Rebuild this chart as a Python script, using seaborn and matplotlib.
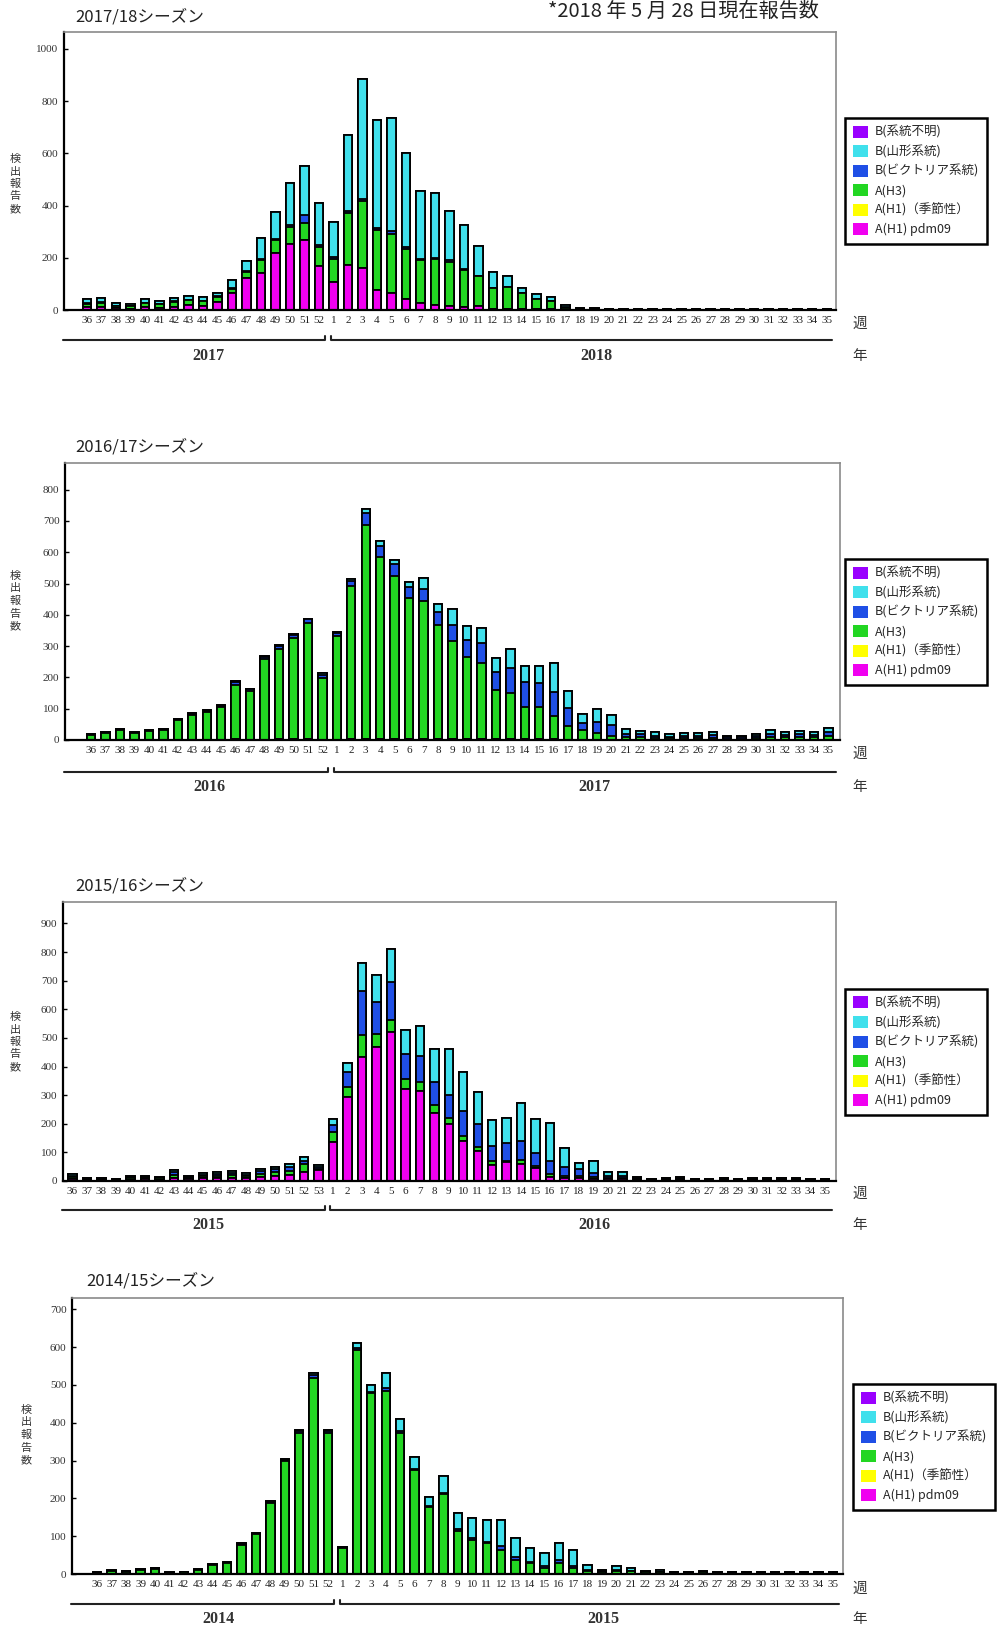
import numpy as np
import pandas as pd
import matplotlib
matplotlib.use("Agg")
import matplotlib.pyplot as plt
import seaborn as sns
from matplotlib.patches import Patch
from matplotlib.transforms import blended_transform_factory

sns.set_theme(style="white")
plt.rcParams['font.family'] = ['Noto Sans CJK JP', 'DejaVu Sans']
SERIF = ['Liberation Serif', 'DejaVu Serif']

# ---------------- categories ----------------
weeks_52 = ['36', '37', '38', '39', '40', '41', '42', '43', '44', '45', '46', '47', '48', '49', '50', '51', '52',
            '1', '2', '3', '4', '5', '6', '7', '8', '9', '10', '11', '12', '13', '14', '15', '16', '17', '18',
            '19', '20', '21', '22', '23', '24', '25', '26', '27', '28', '29', '30', '31', '32', '33', '34', '35']
weeks_53 = ['36', '37', '38', '39', '40', '41', '42', '43', '44', '45', '46', '47', '48', '49', '50', '51', '52', '53',
            '1', '2', '3', '4', '5', '6', '7', '8', '9', '10', '11', '12', '13', '14', '15', '16', '17', '18',
            '19', '20', '21', '22', '23', '24', '25', '26', '27', '28', '29', '30', '31', '32', '33', '34', '35']

legend_labels = ['B(系統不明)', 'B(山形系統)', 'B(ビクトリア系統)', 'A(H3)', 'A(H1)（季節性）', 'A(H1) pdm09']
# stack order bottom -> top: pdm09, H1 seasonal, H3, Victoria, Yamagata, B unknown
colors = {'pdm': '#f000f0', 'h1': '#ffff00', 'h3': '#22d622', 'vic': '#1f4fe6', 'yam': '#40e0ec', 'bunk': '#9a00ff'}

zeros_52 = [0, 0, 0, 0, 0, 0, 0, 0, 0, 0, 0, 0, 0, 0, 0, 0, 0, 0, 0, 0, 0, 0, 0, 0, 0, 0,
            0, 0, 0, 0, 0, 0, 0, 0, 0, 0, 0, 0, 0, 0, 0, 0, 0, 0, 0, 0, 0, 0, 0, 0, 0, 0]
zeros_53 = [0, 0, 0, 0, 0, 0, 0, 0, 0, 0, 0, 0, 0, 0, 0, 0, 0, 0, 0, 0, 0, 0, 0, 0, 0, 0, 0,
            0, 0, 0, 0, 0, 0, 0, 0, 0, 0, 0, 0, 0, 0, 0, 0, 0, 0, 0, 0, 0, 0, 0, 0, 0, 0]

# ---------------- 2017/18 ----------------
pdm_1718 = [10, 12, 6, 5, 10, 8, 12, 18, 15, 32, 67, 121, 143, 219, 251, 270, 168,
            106, 172, 159, 76, 66, 41, 28, 19, 15, 12, 15, 5, 4, 3, 2, 2, 1,
            0, 0, 0, 0, 0, 0, 0, 0, 0, 0, 0, 0, 0, 0, 0, 0, 0, 0]
h3_1718 = [14, 16, 9, 9, 15, 14, 20, 20, 18, 19, 13, 25, 48, 49, 67, 64, 74,
           90, 200, 258, 230, 227, 192, 163, 177, 170, 141, 114, 78, 83, 62, 39, 33, 8,
           3, 2, 2, 1, 1, 1, 1, 1, 1, 1, 1, 1, 1, 1, 1, 1, 1, 1]
vic_1718 = [2, 2, 1, 1, 2, 1, 2, 2, 2, 2, 3, 3, 4, 5, 6, 29, 6,
            6, 8, 10, 8, 8, 7, 5, 5, 5, 4, 3, 2, 2, 1, 1, 1, 1,
            0, 0, 0, 0, 0, 0, 0, 0, 0, 0, 0, 0, 0, 0, 0, 0, 0, 0]
yam_1718 = [15, 17, 9, 8, 14, 11, 13, 15, 15, 12, 32, 38, 79, 104, 163, 189, 162,
            137, 291, 458, 412, 435, 361, 259, 249, 190, 168, 115, 60, 40, 18, 18, 14, 10,
            5, 4, 3, 1, 1, 1, 1, 1, 1, 1, 1, 1, 1, 1, 1, 1, 1, 1]

# ---------------- 2016/17 ----------------
pdm_1617 = [1, 1, 1, 1, 1, 1, 1, 1, 1, 1, 2, 1, 1, 2, 2, 2, 1,
            1, 2, 2, 2, 2, 2, 2, 2, 2, 2, 2, 2, 2, 2, 2, 2, 1, 1, 1, 1,
            0, 0, 0, 0, 0, 0, 0, 0, 0, 0, 0, 0, 0, 0, 0]
h3_1617 = [15, 22, 31, 20, 27, 32, 62, 78, 88, 103, 175, 155, 258, 290, 325, 372, 198,
           332, 489, 686, 583, 521, 453, 442, 364, 314, 262, 245, 158, 147, 104, 104, 75, 45, 31, 20, 12,
           8, 8, 6, 5, 6, 6, 7, 4, 4, 6, 10, 8, 9, 8, 13]
vic_1617 = [2, 2, 3, 2, 2, 2, 4, 4, 4, 5, 8, 6, 6, 9, 10, 11, 10,
            9, 17, 37, 34, 39, 34, 40, 44, 51, 55, 62, 58, 80, 80, 77, 77, 57, 21, 38, 35,
            12, 10, 8, 6, 7, 7, 8, 5, 5, 6, 10, 9, 10, 8, 13]
yam_1617 = [1, 1, 1, 1, 1, 1, 1, 2, 2, 2, 3, 2, 3, 3, 3, 3, 4,
            4, 5, 14, 16, 12, 16, 34, 24, 53, 46, 50, 43, 61, 51, 52, 91, 54, 30, 39, 31,
            14, 12, 10, 8, 8, 8, 9, 5, 5, 7, 11, 9, 10, 8, 13]

# ---------------- 2015/16 ----------------
pdm_1516 = [8, 4, 4, 3, 5, 6, 5, 12, 6, 9, 10, 12, 9, 15, 18, 22, 33, 38,
            137, 294, 434, 469, 521, 323, 315, 236, 198, 140, 105, 55, 66, 58, 47, 15, 10, 10, 8,
            6, 6, 3, 2, 3, 3, 2, 2, 3, 2, 2, 2, 3, 3, 2, 2]
h3_1516 = [5, 3, 3, 2, 4, 5, 4, 10, 4, 7, 7, 8, 7, 10, 12, 14, 25, 5,
           35, 35, 75, 46, 41, 32, 32, 29, 23, 17, 14, 15, 4, 14, 5, 8, 7, 8, 6,
           5, 5, 3, 2, 3, 3, 2, 2, 3, 2, 2, 2, 3, 2, 2, 2]
vic_1516 = [5, 3, 3, 2, 4, 4, 3, 8, 4, 6, 7, 8, 6, 10, 11, 13, 12, 6,
            23, 52, 154, 111, 133, 90, 90, 82, 81, 87, 79, 52, 64, 68, 47, 47, 32, 23, 15,
            8, 8, 4, 2, 3, 3, 2, 2, 3, 2, 2, 3, 3, 2, 2, 2]
yam_1516 = [5, 2, 2, 1, 3, 4, 3, 8, 3, 5, 6, 7, 5, 8, 9, 11, 14, 6,
            20, 32, 100, 95, 117, 84, 104, 116, 160, 136, 112, 90, 87, 133, 116, 133, 67, 23, 41,
            12, 12, 4, 2, 3, 4, 2, 2, 3, 2, 3, 3, 2, 3, 2, 2]

# ---------------- 2014/15 ----------------
pdm_1415 = [0, 0, 0, 0, 0, 0, 0, 0, 0, 0, 0, 0, 0, 0, 0, 0, 0,
            0, 0, 0, 0, 0, 0, 0, 0, 0, 0, 0, 0, 0, 0, 0, 0, 0, 0,
            0, 0, 0, 0, 0, 0, 0, 0, 0, 0, 0, 0, 0, 0, 0, 0, 0]
h3_1415 = [3, 8, 6, 11, 14, 3, 4, 10, 23, 28, 78, 105, 188, 298, 374, 518, 373,
           69, 593, 478, 485, 373, 275, 176, 211, 114, 90, 81, 63, 37, 28, 15, 28, 15, 8,
           5, 8, 7, 4, 5, 3, 3, 4, 2, 3, 2, 2, 3, 2, 2, 3, 3]
vic_1415 = [0, 1, 1, 1, 1, 0, 0, 1, 1, 1, 1, 2, 2, 3, 3, 8, 4,
            2, 5, 4, 6, 5, 4, 3, 4, 4, 4, 4, 10, 8, 5, 5, 8, 6, 3,
            2, 3, 2, 1, 1, 1, 1, 1, 1, 1, 1, 1, 1, 1, 1, 1, 1]
yam_1415 = [1, 2, 1, 2, 2, 1, 1, 1, 2, 2, 2, 2, 3, 3, 4, 5, 4,
            1, 12, 18, 40, 32, 30, 24, 45, 44, 53, 58, 70, 51, 37, 35, 47, 42, 13,
            4, 10, 8, 4, 5, 2, 2, 3, 1, 1, 1, 1, 1, 1, 1, 1, 2]

seasons = [
    dict(title='2017/18シーズン', weeks=weeks_52, n_first=17, years=('2017', '2018'),
         layers=[pdm_1718, zeros_52, h3_1718, vic_1718, yam_1718, zeros_52],
         ylim=1065, yticks=[0, 200, 400, 600, 800, 1000],
         ax_px=(64, 32, 836, 310), xlim=(-1.57, 51.64), year_x=(8.4, 35.1),
         line_y=340, year_y=356, week_y=324, leg=(845, 118), title_xy=(75, 17), ylab=(15, 184)),
    dict(title='2016/17シーズン', weeks=weeks_52, n_first=17, years=('2016', '2017'),
         layers=[pdm_1617, zeros_52, h3_1617, vic_1617, yam_1617, zeros_52],
         ylim=885, yticks=[0, 100, 200, 300, 400, 500, 600, 700, 800],
         ax_px=(65, 463, 840, 740), xlim=(-1.8, 51.8), year_x=(8.2, 34.8),
         line_y=772, year_y=787, week_y=754, leg=(845, 559), title_xy=(75, 447), ylab=(15, 601)),
    dict(title='2015/16シーズン', weeks=weeks_53, n_first=18, years=('2015', '2016'),
         layers=[pdm_1516, zeros_53, h3_1516, vic_1516, yam_1516, zeros_53],
         ylim=975, yticks=[0, 100, 200, 300, 400, 500, 600, 700, 800, 900],
         ax_px=(63, 902, 836, 1181), xlim=(-0.66, 52.76), year_x=(9.4, 36.1),
         line_y=1210, year_y=1225, week_y=1194, leg=(845, 989), title_xy=(75, 886), ylab=(15, 1042)),
    dict(title='2014/15シーズン', weeks=weeks_52, n_first=17, years=('2014', '2015'),
         layers=[pdm_1415, zeros_52, h3_1415, vic_1415, yam_1415, zeros_52],
         ylim=730, yticks=[0, 100, 200, 300, 400, 500, 600, 700],
         ax_px=(72, 1298, 843, 1574), xlim=(-1.75, 51.7), year_x=(8.4, 35.1),
         line_y=1604, year_y=1619, week_y=1589, leg=(853, 1384), title_xy=(86, 1281), ylab=(26, 1435)),
]

layer_colors = [colors['pdm'], colors['h1'], colors['h3'], colors['vic'], colors['yam'], colors['bunk']]
legend_colors = [colors['bunk'], colors['yam'], colors['vic'], colors['h3'], colors['h1'], colors['pdm']]

W, H = 1000, 1632
fig = plt.figure(figsize=(W / 100, H / 100), dpi=100)
fig.patch.set_facecolor('white')


def fy(py):
    return 1 - py / H


fig.text(548 / W, fy(11), '*2018 年 5 月 28 日現在報告数', fontsize=14.5, ha='left', va='center',
         family=['Noto Sans CJK JP', 'DejaVu Sans'], color='#222222')

for s in seasons:
    x0, y0, x1, y1 = s['ax_px']
    ax = fig.add_axes([x0 / W, fy(y1), (x1 - x0) / W, (y1 - y0) / H])
    weeks = s['weeks']
    cums = []
    cum = np.zeros(len(weeks))
    for vals in s['layers']:
        cum = cum + np.array(vals, dtype=float)
        cums.append(cum.copy())
    for cvals, col in reversed(list(zip(cums, layer_colors))):
        df = pd.DataFrame({'week': weeks, 'value': cvals})
        sns.barplot(data=df, x='week', y='value', order=weeks, color=col, saturation=1,
                    edgecolor='black', linewidth=1.3, width=0.58, errorbar=None, ax=ax)
    ax.set_xlim(*s['xlim'])
    ax.set_ylim(0, s['ylim'])
    ax.set_yticks(s['yticks'])
    ax.set_yticklabels([str(t) for t in s['yticks']], family=SERIF, fontsize=8, color='#333333')
    ax.set_xticks(range(len(weeks)))
    ax.set_xticklabels(weeks, family=SERIF, fontsize=8, color='#222222')
    ax.tick_params(axis='x', length=0, pad=4)
    ax.tick_params(axis='y', direction='in', length=3, width=1, color='black', left=True, pad=4)
    ax.set_xlabel('')
    ax.set_ylabel('')
    for side in ['left', 'bottom']:
        ax.spines[side].set_color('black')
        ax.spines[side].set_linewidth(1.6)
    for side in ['top', 'right']:
        ax.spines[side].set_color('#8a8a8a')
        ax.spines[side].set_linewidth(1.2)

    # title
    fig.text(s['title_xy'][0] / W, fy(s['title_xy'][1]), s['title'], fontsize=12, ha='left', va='center',
             family=['Noto Sans CJK JP', 'DejaVu Sans'], color='#222222')
    # y label: stacked characters, one per line
    for k, ch in enumerate('検出報告数'):
        fig.text(s['ylab'][0] / W, fy(s['ylab'][1] + (k - 2) * 12.5), ch, fontsize=8,
                 ha='center', va='center', color='#333333')
    # year lines
    tr = blended_transform_factory(ax.transData, fig.transFigure)
    brk = s['n_first'] - 0.5
    ly = fy(s['line_y'])
    hook = 4 / H
    xl0 = s['xlim'][0] - 0.1
    xr1 = s['xlim'][1] - 0.3
    ax.plot([xl0, brk - 0.08, brk - 0.08], [ly, ly, ly + hook], transform=tr, clip_on=False,
            color='#222222', lw=1.5)
    ax.plot([brk + 0.3, brk + 0.3, xr1], [ly + hook, ly, ly], transform=tr, clip_on=False,
            color='#222222', lw=1.5)
    for yr, xx in zip(s['years'], s['year_x']):
        ax.text(xx, fy(s['year_y']), yr, transform=tr, ha='center', va='center',
                family=SERIF, fontsize=11.5, fontweight='bold', color='#333333')
    fig.text(860 / W, fy(s['week_y']), '週', fontsize=10.5, ha='center', va='center', color='#333333')
    fig.text(860 / W, fy(s['year_y']), '年', fontsize=10.5, ha='center', va='center', color='#333333')

    # legend
    handles = [Patch(facecolor=c, edgecolor='none') for c in legend_colors]
    leg = ax.legend(handles, legend_labels, loc='upper left',
                    bbox_to_anchor=(s['leg'][0] / W, fy(s['leg'][1])), bbox_transform=fig.transFigure,
                    borderaxespad=0, fontsize=9, frameon=True, fancybox=False, edgecolor='black',
                    framealpha=1, handlelength=1.2, handleheight=1.1, handletextpad=0.6,
                    labelspacing=0.5, borderpad=0.6)
    leg.get_frame().set_linewidth(1.8)

fig.savefig('out.png', dpi=100, facecolor='white')
